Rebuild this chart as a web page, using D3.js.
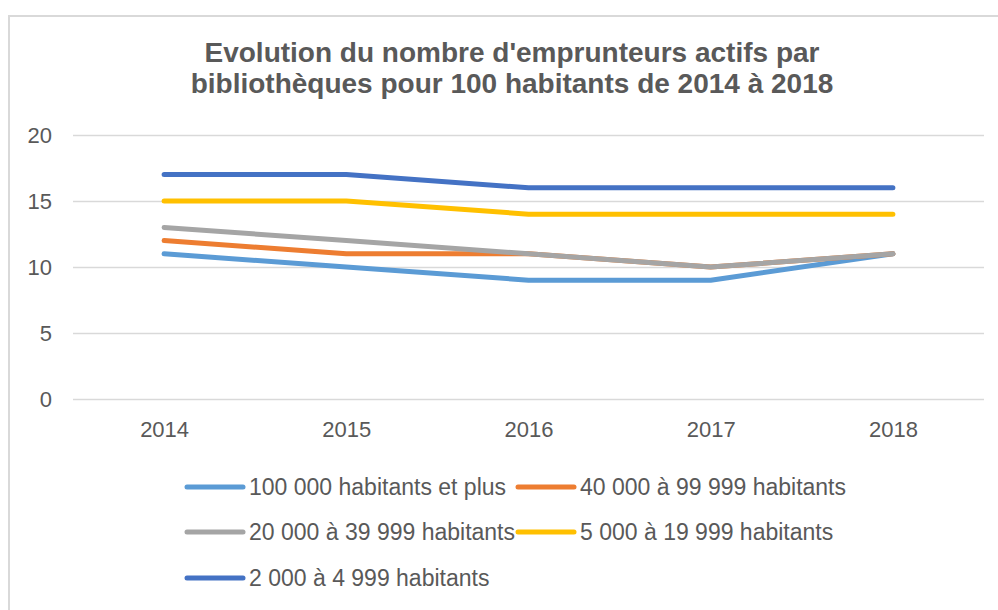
<!DOCTYPE html>
<html>
<head>
    <meta charset="utf-8">
    <style>
        body {
            margin: 0;
            background-color: #FFF;
        }
        text {
            font-family: "Liberation Sans", Arial, sans-serif;
            fill: #595959;
        }
    </style>
</head>
<body>
<div id="chartArea"></div>
<script src="https://cdnjs.cloudflare.com/ajax/libs/d3/7.8.5/d3.min.js"></script>

<script>
    /* -----------------------------------
        data
    ----------------------------------- */
    var years = ["2014", "2015", "2016", "2017", "2018"];
    var yTicks = [0, 5, 10, 15, 20];
    var titleLines = ["Evolution du nombre d'emprunteurs actifs par",
                      "bibliothèques pour 100 habitants de 2014 à 2018"];

    var seriesNames = ["100 000 habitants et plus", "40 000 à 99 999 habitants",
                       "20 000 à 39 999 habitants", "5 000 à 19 999 habitants",
                       "2 000 à 4 999 habitants"];
    var hab100k = [11, 10, 9, 9, 11];
    var hab40k  = [12, 11, 11, 10, 11];
    var hab20k  = [13, 12, 11, 10, 11];
    var hab5k   = [15, 15, 14, 14, 14];
    var hab2k   = [17, 17, 16, 16, 16];
    var seriesValues = [hab100k, hab40k, hab20k, hab5k, hab2k];
    var colors = ["#5B9BD5", "#ED7D31", "#A5A5A5", "#FFC000", "#4472C4"];

    /* -----------------------------------
        initialize
    ----------------------------------- */
    var width = 998, height = 610;
    var plot = {left: 73, right: 984, top: 135, bottom: 399};

    var svg = d3.select("#chartArea").append("svg")
        .attr("width", width)
        .attr("height", height);

    // outer frame (only top / left visible in the reference)
    svg.append("path")
        .attr("d", "M9," + height + " V16 H" + width)
        .attr("fill", "none")
        .attr("stroke", "#D9D9D9")
        .attr("stroke-width", 2);

    svg.selectAll(".title").data(titleLines).enter()
        .append("text")
        .attr("class", "title")
        .attr("x", 512)
        .attr("y", function(d, i) { return 62 + i * 31; })
        .attr("text-anchor", "middle")
        .style("font-size", "28px")
        .style("font-weight", "bold")
        .text(function(d) { return d; });

    var x = d3.scalePoint().domain(years)
        .range([plot.left, plot.right]).padding(0.5);
    var y = d3.scaleLinear().domain([0, 20])
        .range([plot.bottom, plot.top]);

    /* -----------------------------------
        axes
    ----------------------------------- */
    var yAxis = svg.append("g")
        .attr("transform", "translate(" + plot.left + ",0)")
        .call(d3.axisLeft(y).tickValues(yTicks)
            .tickSize(-(plot.right - plot.left)).tickPadding(21));
    yAxis.select(".domain").remove();
    yAxis.selectAll("line").attr("stroke", "#D9D9D9").attr("stroke-width", 1.5);
    yAxis.selectAll("text")
        .attr("fill", "#595959")
        .style("font-size", "22px")
        .style("font-family", "Liberation Sans, Arial, sans-serif");

    var xAxis = svg.append("g")
        .attr("transform", "translate(0," + plot.bottom + ")")
        .call(d3.axisBottom(x).tickSize(0).tickPadding(22));
    xAxis.select(".domain").remove();
    xAxis.selectAll("text")
        .attr("fill", "#595959")
        .style("font-size", "22px")
        .style("font-family", "Liberation Sans, Arial, sans-serif");

    /* -----------------------------------
        lines
    ----------------------------------- */
    var line = d3.line()
        .x(function(d, i) { return x(years[i]); })
        .y(function(d) { return y(d); });

    svg.selectAll(".serie").data(seriesValues).enter()
        .append("path")
        .attr("class", "serie")
        .attr("d", line)
        .attr("fill", "none")
        .attr("stroke", function(d, i) { return colors[i]; })
        .attr("stroke-width", 5)
        .attr("stroke-linecap", "round")
        .attr("stroke-linejoin", "round");

    /* -----------------------------------
        legend
    ----------------------------------- */
    var legendCols = [187, 518], legendRows = [487, 532, 578];

    var item = svg.selectAll(".legend").data(seriesNames).enter()
        .append("g")
        .attr("class", "legend")
        .attr("transform", function(d, i) {
            return "translate(" + legendCols[i % 2] + "," + legendRows[Math.floor(i / 2)] + ")";
        });

    item.append("line")
        .attr("x1", 0).attr("x2", 56)
        .attr("stroke", function(d, i) { return colors[i]; })
        .attr("stroke-width", 5)
        .attr("stroke-linecap", "round");

    item.append("text")
        .attr("x", 62)
        .attr("dy", "0.35em")
        .style("font-size", "23px")
        .text(function(d) { return d; });
</script>
</body>
</html>
